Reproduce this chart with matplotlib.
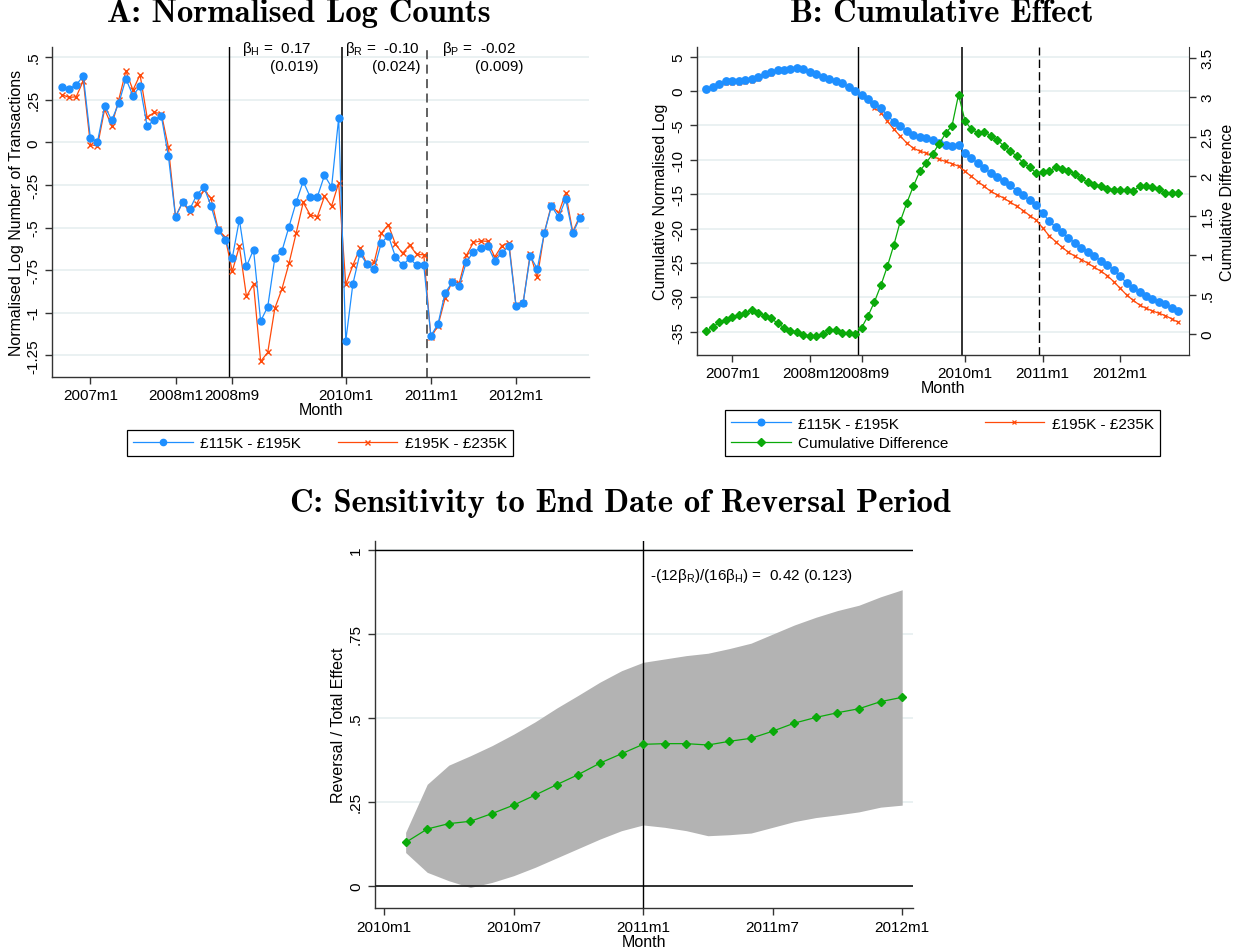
import numpy as np
import matplotlib.pyplot as plt

plt.rcParams['font.family'] = ['Liberation Sans', 'DejaVu Sans']
plt.rcParams['mathtext.fontset'] = 'custom'
plt.rcParams['mathtext.rm'] = 'Liberation Sans'

# monthly series, 2006m9 .. 2012m10 (index 0 = 2006m9)
start_year, start_month = 2006, 9

low_band = [0.326, 0.312, 0.338, 0.387, 0.023, 0.003, 0.213, 0.130, 0.228, 0.373,
            0.273, 0.330, 0.093, 0.132, 0.154, -0.083, -0.439, -0.353, -0.394, -0.308,
            -0.263, -0.373, -0.515, -0.572, -0.679, -0.454, -0.728, -0.630, -1.049, -0.965,
            -0.679, -0.638, -0.495, -0.353, -0.229, -0.323, -0.319, -0.194, -0.263, 0.142,
            -1.166, -0.832, -0.652, -0.716, -0.744, -0.591, -0.548, -0.671, -0.722, -0.681,
            -0.722, -0.722, -1.135, -1.066, -0.884, -0.822, -0.845, -0.701, -0.644, -0.620,
            -0.607, -0.695, -0.652, -0.607, -0.961, -0.945, -0.667, -0.742, -0.532, -0.374,
            -0.439, -0.335, -0.534, -0.443]
high_band = [0.279, 0.263, 0.267, 0.361, -0.014, -0.022, 0.193, 0.097, 0.250, 0.418,
             0.306, 0.396, 0.146, 0.175, 0.168, -0.030, -0.435, -0.351, -0.410, -0.360,
             -0.278, -0.329, -0.509, -0.558, -0.757, -0.610, -0.904, -0.832, -1.285, -1.233,
             -0.974, -0.861, -0.710, -0.534, -0.353, -0.427, -0.437, -0.317, -0.374, -0.239,
             -0.834, -0.722, -0.622, -0.716, -0.705, -0.534, -0.484, -0.597, -0.652, -0.603,
             -0.658, -0.660, -1.145, -1.076, -0.916, -0.816, -0.826, -0.664, -0.587, -0.579,
             -0.581, -0.673, -0.607, -0.589, -0.957, -0.943, -0.656, -0.793, -0.529, -0.367,
             -0.417, -0.298, -0.525, -0.433]

cum_low = [0.34, 0.63, 1.02, 1.41, 1.41, 1.41, 1.60, 1.75, 2.04, 2.52,
           2.72, 3.01, 3.11, 3.20, 3.35, 3.25, 2.77, 2.43, 2.04, 1.70,
           1.50, 1.12, 0.63, 0.05, -0.58, -1.12, -1.84, -2.48, -3.54, -4.47,
           -5.15, -5.78, -6.36, -6.65, -6.89, -7.18, -7.52, -7.82, -8.01, -7.91,
           -8.98, -9.76, -10.49, -11.21, -11.94, -12.52, -13.06, -13.74, -14.51, -15.19,
           -15.92, -16.65, -17.77, -18.88, -19.81, -20.53, -21.36, -22.09, -22.77, -23.35,
           -24.03, -24.66, -25.29, -25.97, -26.94, -27.91, -28.59, -29.27, -29.85, -30.24,
           -30.63, -31.02, -31.50, -31.94]
cum_high = [0.29, 0.54, 0.86, 1.22, 1.19, 1.17, 1.33, 1.45, 1.77, 2.29,
            2.52, 2.87, 3.03, 3.16, 3.32, 3.26, 2.79, 2.45, 2.04, 1.65,
            1.45, 1.11, 0.62, 0.05, -0.73, -1.36, -2.43, -3.16, -4.37, -5.58,
            -6.55, -7.57, -8.30, -8.74, -9.03, -9.42, -9.95, -10.24, -10.58, -10.92,
            -11.70, -12.43, -13.16, -13.88, -14.61, -15.10, -15.58, -16.17, -16.75, -17.38,
            -18.11, -18.74, -19.90, -21.02, -21.89, -22.72, -23.45, -24.03, -24.51, -25.05,
            -25.63, -26.21, -26.84, -27.72, -28.69, -29.66, -30.44, -31.12, -31.60, -31.99,
            -32.33, -32.67, -33.16, -33.64]
cum_diff = [0.04, 0.09, 0.15, 0.18, 0.22, 0.24, 0.27, 0.30, 0.27, 0.23,
            0.20, 0.14, 0.08, 0.04, 0.03, -0.01, -0.02, -0.02, 0.00, 0.05,
            0.05, 0.01, 0.01, 0.00, 0.08, 0.23, 0.41, 0.62, 0.86, 1.13,
            1.43, 1.66, 1.87, 2.06, 2.17, 2.28, 2.41, 2.54, 2.64, 3.03,
            2.70, 2.59, 2.55, 2.56, 2.51, 2.46, 2.38, 2.32, 2.25, 2.17,
            2.11, 2.04, 2.05, 2.06, 2.11, 2.09, 2.07, 2.03, 1.97, 1.92,
            1.89, 1.88, 1.84, 1.83, 1.83, 1.82, 1.81, 1.87, 1.87, 1.86,
            1.84, 1.79, 1.78, 1.78]

# reversal share by end month, 2010m2 .. 2012m1 (months after 2010m1)
end_month = list(range(1, 25))
rev_share = [0.129, 0.169, 0.185, 0.192, 0.215, 0.240, 0.270, 0.301, 0.331, 0.365,
             0.393, 0.421, 0.423, 0.423, 0.419, 0.430, 0.439, 0.460, 0.484, 0.501,
             0.515, 0.527, 0.548, 0.561]
rev_hi = [0.159, 0.302, 0.359, 0.387, 0.417, 0.451, 0.488, 0.529, 0.567, 0.606,
          0.640, 0.665, 0.675, 0.685, 0.692, 0.706, 0.722, 0.749, 0.776, 0.799,
          0.819, 0.835, 0.860, 0.881]
rev_lo = [0.099, 0.040, 0.015, -0.005, 0.010, 0.030, 0.055, 0.083, 0.111, 0.139,
          0.164, 0.181, 0.174, 0.164, 0.149, 0.152, 0.157, 0.174, 0.191, 0.203,
          0.211, 0.220, 0.234, 0.240]

blue = '#1E8FFF'
orange = '#FF4A0A'
green = '#0AAA0A'
grid_c = '#E8F0F1'
title_size = 23.5


def mlabel(i, y0=start_year, m0=start_month):
    k = m0 - 1 + i
    return '%dm%d' % (y0 + k // 12, k % 12 + 1)


def stata_axes(ax):
    for s in ['top', 'right']:
        ax.spines[s].set_visible(False)
    for s in ['left', 'bottom']:
        ax.spines[s].set_color('#333333')
        ax.spines[s].set_linewidth(1.0)
    ax.tick_params(direction='out', length=5, width=1, colors='#333333',
                   labelcolor='black', labelsize=11)
    ax.yaxis.grid(True, color=grid_c, lw=1.3)
    ax.set_axisbelow(True)
    for lab in ax.get_yticklabels():
        lab.set_rotation(90)
        lab.set_va('center')


fig = plt.figure(figsize=(12.43, 9.53), dpi=100)

n = len(low_band)
x = np.arange(n)
xt = [4, 16, 24, 40, 52, 64]

# ---- A
axA = fig.add_axes([0.0422, 0.6037, 0.4317, 0.3456])
axA.plot(x, high_band, color=orange, lw=0.9, marker='x', ms=4, mew=1.0, label='£195K - £235K', zorder=3)
axA.plot(x, low_band, color=blue, lw=0.9, marker='o', ms=5, mec=blue, label='£115K - £195K', zorder=4)
axA.axvline(23.5, color='black', lw=1.0)
axA.axvline(39.5, color='#222222', lw=1.3)
axA.axvline(51.5, color='#555555', lw=1.3, ls=(0, (5, 3)))
axA.set_xlim(-1.35, 74.3)
axA.set_ylim(-1.375, 0.557)
axA.set_yticks([0.5, 0.25, 0, -0.25, -0.5, -0.75, -1, -1.25])
axA.set_yticklabels(['.5', '.25', '0', '-.25', '-.5', '-.75', '-1', '-1.25'])
axA.set_xticks(xt)
axA.set_xticklabels([mlabel(i) for i in xt])
stata_axes(axA)
axA.set_xlabel('Month', fontsize=11.5, labelpad=0)
axA.set_ylabel('Normalised Log Number of Transactions', fontsize=11.5, labelpad=2)
ann = [(25.4, 36.2, 'β$_\\mathregular{H}$ =  0.17', '(0.019)'),
       (39.9, 50.6, 'β$_\\mathregular{R}$ =  -0.10', '(0.024)'),
       (53.6, 65.0, 'β$_\\mathregular{P}$ =  -0.02', '(0.009)')]
for x0, x1, t1, t2 in ann:
    axA.text(x0, 0.553, t1, fontsize=11, ha='left', va='center', clip_on=False)
    axA.text(x1, 0.447, t2, fontsize=11, ha='right', va='center', clip_on=False)
h, l = axA.get_legend_handles_labels()
axA.legend(h[::-1], l[::-1], ncol=2, loc='lower left', mode='expand',
           bbox_to_anchor=(127 / 1243, 1 - 457 / 953, 386 / 1243, 30 / 953),
           bbox_transform=fig.transFigure, fancybox=False, framealpha=1,
           edgecolor='black', fontsize=11, handlelength=3.9, handletextpad=0.5,
           borderaxespad=0, columnspacing=2, markerscale=0.9).get_frame().set_linewidth(0.9)
fig.text(0.2405, 1 - 13 / 953, 'A: Normalised Log Counts', family='cmb10',
         fontsize=title_size, ha='center', va='center')

# ---- B
axB = fig.add_axes([0.5605, 0.6268, 0.3958, 0.3225])
axB2 = axB.twinx()
axB.plot(x, cum_high, color=orange, lw=0.9, marker='x', ms=3.5, mew=0.9, label='£195K - £235K', zorder=3)
axB.plot(x, cum_low, color=blue, lw=0.9, marker='o', ms=5.3, mec=blue, label='£115K - £195K', zorder=4)
axB2.plot(x, cum_diff, color=green, lw=0.9, marker='D', ms=4.5, mec=green, label='Cumulative Difference', zorder=5)
axB.axvline(23.5, color='black', lw=1.0)
axB.axvline(39.6, color='#222222', lw=1.3)
axB.axvline(51.5, color='black', lw=1.0, ls=(0, (6, 3)))
axB.set_xlim(-1.5, 74.6)
axB.set_ylim(-38.35, 6.36)
axB2.set_ylim(-0.26, 3.63)
axB.set_yticks([5, 0, -5, -10, -15, -20, -25, -30, -35])
axB.set_yticklabels(['5', '0', '-5', '-10', '-15', '-20', '-25', '-30', '-35'])
axB2.set_yticks([0, 0.5, 1, 1.5, 2, 2.5, 3, 3.5])
axB2.set_yticklabels(['0', '.5', '1', '1.5', '2', '2.5', '3', '3.5'])
axB.set_xticks(xt)
axB.set_xticklabels([mlabel(i) for i in xt])
stata_axes(axB)
axB2.spines['top'].set_visible(False)
axB2.spines['left'].set_visible(False)
axB2.spines['bottom'].set_visible(False)
axB2.spines['right'].set_color('#333333')
axB2.tick_params(direction='out', length=5, width=1, colors='#333333', labelcolor='black', labelsize=11)
for lab in axB2.get_yticklabels():
    lab.set_rotation(90)
    lab.set_va('center')
axB.set_xlabel('Month', fontsize=11.5, labelpad=0)
axB.set_ylabel('Cumulative Normalised Log', fontsize=11.5, labelpad=2)
axB2.set_ylabel('Cumulative Difference', fontsize=11.5, labelpad=4)
hB, lB = axB.get_legend_handles_labels()
hB2, lB2 = axB2.get_legend_handles_labels()
legB = axB2.legend([hB[1], hB2[0], hB[0]], [lB[1], lB2[0], lB[0]], ncol=2, loc='lower left',
                   mode='expand', bbox_to_anchor=(725 / 1243, 1 - 457 / 953, 435 / 1243, 50 / 953),
                   bbox_transform=fig.transFigure, fancybox=False, framealpha=1,
                   edgecolor='black', fontsize=11, handlelength=3.9, handletextpad=0.5,
                   borderaxespad=0, columnspacing=2, labelspacing=0.35, markerscale=0.9)
legB.get_frame().set_linewidth(0.9)
fig.text(942 / 1243, 1 - 13 / 953, 'B: Cumulative Effect', family='cmb10',
         fontsize=title_size, ha='center', va='center')

# ---- C
axC = fig.add_axes([0.3015, 0.0462, 0.433, 0.3854])
axC.fill_between(end_month, rev_lo, rev_hi, color='#B3B3B3', lw=0, zorder=2)
axC.plot(end_month, rev_share, color=green, lw=0.9, marker='D', ms=4.5, mec=green, zorder=4)
axC.axhline(1, color='black', lw=1.0, zorder=3)
axC.axhline(0, color='#222222', lw=1.3, zorder=3)
axC.axvline(12, color='black', lw=1.0, zorder=3)
axC.set_xlim(-0.43, 24.5)
axC.set_ylim(-0.066, 1.027)
axC.set_yticks([0, 0.25, 0.5, 0.75, 1])
axC.set_yticklabels(['0', '.25', '.5', '.75', '1'])
xtc = [0, 6, 12, 18, 24]
axC.set_xticks(xtc)
axC.set_xticklabels([mlabel(i, 2010, 1) for i in xtc])
stata_axes(axC)
axC.set_xlabel('Month', fontsize=11.5, labelpad=0)
axC.set_ylabel('Reversal / Total Effect', fontsize=11.5, labelpad=2)
axC.text(12.3, 0.925, '-(12β$_\\mathregular{R}$)/(16β$_\\mathregular{H}$) =  0.42 (0.123)',
         fontsize=11, ha='left', va='center')
fig.text(620 / 1243, 1 - 504 / 953, 'C: Sensitivity to End Date of Reversal Period',
         family='cmb10', fontsize=title_size, ha='center', va='center')

fig.savefig('out.png', dpi=100, facecolor='white')
